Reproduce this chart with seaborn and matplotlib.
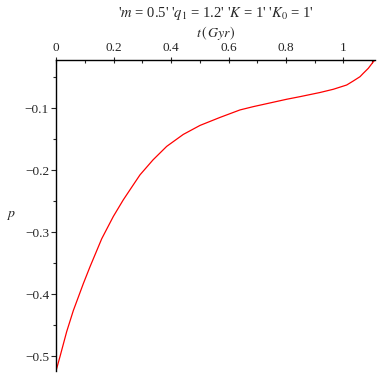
import numpy as np
import pandas as pd
import seaborn as sns
import matplotlib
matplotlib.use("Agg")
import matplotlib.pyplot as plt
from matplotlib.ticker import MultipleLocator

# values
t_vals = [0.0, 0.0139, 0.0372, 0.0602, 0.0950, 0.1183, 0.1416, 0.1590,
          0.1993, 0.2341, 0.2689, 0.2922, 0.3374, 0.3850, 0.4428, 0.5009,
          0.5704, 0.6400, 0.6863, 0.8024, 0.8487, 0.9183, 0.9645, 1.0111,
          1.0341, 1.0574, 1.0689, 1.0863, 1.1037, 1.1096]
p_vals = [-0.5238, -0.5005, -0.4602, -0.4264, -0.3829, -0.3556, -0.3298,
          -0.3105, -0.2746, -0.2477, -0.2235, -0.2074, -0.1833, -0.1615,
          -0.1422, -0.1277, -0.1148, -0.1027, -0.0974, -0.0855, -0.0813,
          -0.0746, -0.0694, -0.0625, -0.0560, -0.0491, -0.0436, -0.0356,
          -0.0250, -0.0222]

x_major = [0, 0.2, 0.4, 0.6, 0.8, 1.0]
x_labels = ["0", "0.2", "0.4", "0.6", "0.8", "1"]
y_major = [-0.5, -0.4, -0.3, -0.2, -0.1]
y_labels = ["\u22120.5", "\u22120.4", "\u22120.3", "\u22120.2", "\u22120.1"]

sns.set_style("ticks")
plt.rcParams["font.family"] = ["Liberation Serif", "DejaVu Serif"]
plt.rcParams["mathtext.fontset"] = "stix"

df = pd.DataFrame({"t": t_vals, "p": p_vals})

fig = plt.figure(figsize=(3.82, 3.82), dpi=100)
ax = fig.add_axes([0.1466, 0.0288, 0.8351, 0.8141])

sns.lineplot(data=df, x="t", y="p", color="#ff0000", linewidth=0.9,
             sort=False, estimator=None, ax=ax)

ax.set_xlim(0, 1.1096)
ax.set_ylim(-0.5238, -0.0222)

for side in ["bottom", "right"]:
    ax.spines[side].set_visible(False)
for side in ["left", "top"]:
    ax.spines[side].set_linewidth(1.0)
    ax.spines[side].set_color("black")

ax.xaxis.tick_top()
ax.xaxis.set_label_position("top")
ax.set_xticks(x_major)
ax.set_xticklabels(x_labels)
ax.xaxis.set_minor_locator(MultipleLocator(0.1))
ax.set_yticks(y_major)
ax.set_yticklabels(y_labels)
ax.yaxis.set_minor_locator(MultipleLocator(0.05))

ax.tick_params(axis="x", which="major", direction="inout", length=5, width=0.8,
               labelsize=9.5, pad=1.5)
ax.tick_params(axis="x", which="minor", direction="in", length=2.5, width=0.8)
ax.tick_params(axis="y", which="major", direction="out", length=3.5, width=0.8,
               labelsize=9.5, pad=1.5)
ax.tick_params(axis="y", which="minor", direction="out", length=2, width=0.8)

ax.set_xlabel(r"$t\,(\,Gyr)$", fontsize=10, labelpad=4)
ax.set_ylabel(r"$p$", fontsize=10, rotation=0, labelpad=10, va="center")
ax.set_title(r"'$m$ = 0.5' '$q_1$ = 1.2' '$K$ = 1' '$K_0$ = 1'",
             fontsize=10.5, pad=5)

fig.savefig("out.png", dpi=100)
